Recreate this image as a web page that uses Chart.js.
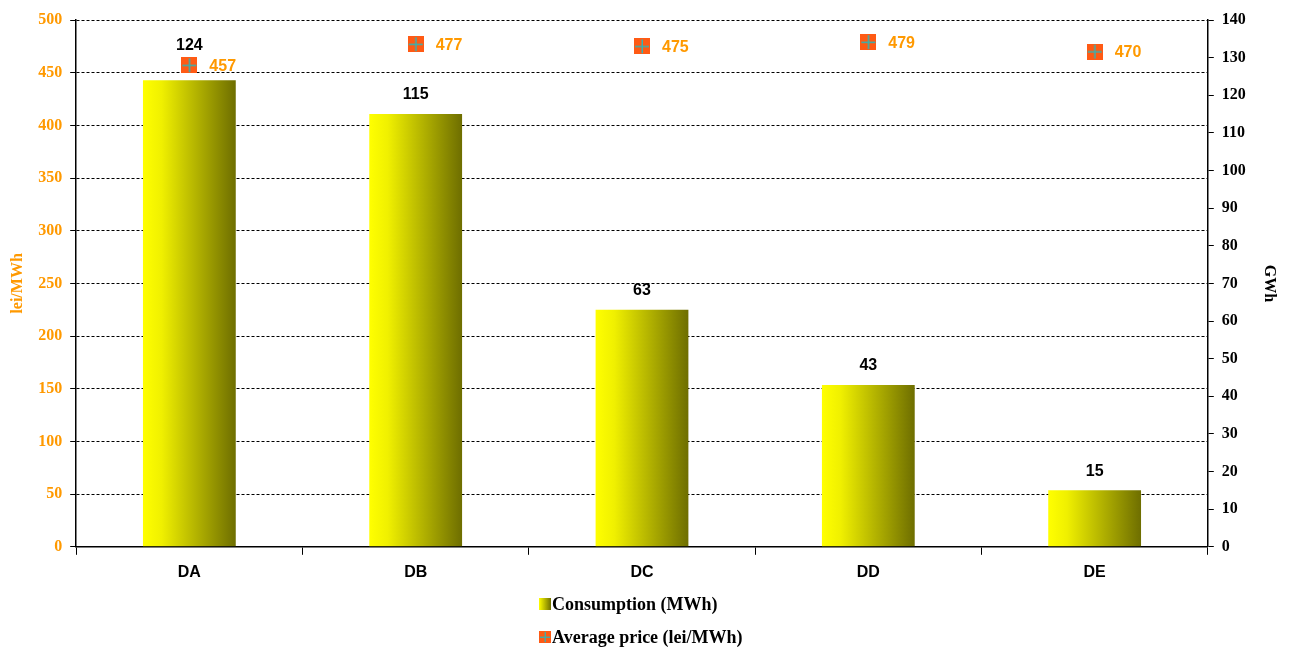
<!DOCTYPE html>
<html>
<head>
<meta charset="utf-8">
<script src="https://cdn.jsdelivr.net/npm/chart.js@4.4.0/dist/chart.umd.min.js"></script>
<style>
  html, body { margin: 0; padding: 0; background: #fff; }
  #wrap { width: 1293px; height: 647px; }
</style>
</head>
<body>
<div id="wrap"><canvas id="myChart" width="1293" height="647"></canvas></div>
<script>
// data
const categories = ["DA", "DB", "DC", "DD", "DE"];
const consumption = [124, 115, 63, 43, 15];   // GWh, right axis
const avgPrice = [457, 477, 475, 479, 470];     // lei/MWh, left axis
const leftTicks = [0, 50, 100, 150, 200, 250, 300, 350, 400, 450, 500];
const rightTicks = [0, 10, 20, 30, 40, 50, 60, 70, 80, 90, 100, 110, 120, 130, 140];

const ORANGE = "#FF9900";
const BAR_PCT = 0.41;

// orange square marker with teal cross
const marker = document.createElement("canvas");
marker.width = 16; marker.height = 16;
(function () {
  const m = marker.getContext("2d");
  m.fillStyle = "#FF5A14";
  m.fillRect(0, 0, 16, 16);
  m.fillStyle = "#33B3B3";
  m.fillRect(7.5, 1, 1.5, 14);
  m.fillRect(1, 7.5, 14, 1.5);
})();

function barGradient(c) {
  const chart = c.chart;
  if (!chart.chartArea) return "#cccc00";
  const xs = chart.scales.x;
  const cx = xs.getPixelForValue(c.dataIndex);
  const w = xs.width / categories.length * BAR_PCT;
  const g = chart.ctx.createLinearGradient(cx - w / 2, 0, cx + w / 2, 0);
  g.addColorStop(0, "#FFFF00");
  g.addColorStop(0.2, "#F0F000");
  g.addColorStop(1, "#6E6E00");
  return g;
}

// value labels + legend drawn by hand
const labelsPlugin = {
  id: "labels",
  afterDatasetsDraw(chart) {
    const ctx = chart.ctx;
    const pts = chart.getDatasetMeta(1).data;
    ctx.save();
    ctx.font = "bold 16px 'Liberation Sans', Arial, sans-serif";
    ctx.textBaseline = "middle";
    ctx.textAlign = "center";
    ctx.fillStyle = "#000";
    chart.getDatasetMeta(0).data.forEach((el, i) => {
      let y = el.y - 19;
      // keep the bar label clear of the price marker
      if (Math.abs(y - pts[i].y) < 18) y = pts[i].y - 20;
      ctx.fillText(consumption[i], el.x, y);
    });
    ctx.textAlign = "left";
    ctx.fillStyle = ORANGE;
    pts.forEach((el, i) => {
      ctx.fillText(avgPrice[i], el.x + 20, el.y + 1);
    });
    ctx.restore();
  },
  afterDraw(chart) {
    const ctx = chart.ctx;
    ctx.save();
    ctx.font = "bold 18px 'Liberation Serif', 'Times New Roman', serif";
    ctx.textBaseline = "middle";
    ctx.textAlign = "left";
    const x0 = 539;
    // row 1
    const g = ctx.createLinearGradient(x0, 0, x0 + 12, 0);
    g.addColorStop(0, "#FFFF00");
    g.addColorStop(1, "#6E6E00");
    ctx.fillStyle = g;
    ctx.fillRect(x0, 598, 12, 12);
    ctx.fillStyle = "#000";
    ctx.fillText("Consumption (MWh)", x0 + 13, 605);
    // row 2
    ctx.drawImage(marker, x0, 631, 12, 12);
    ctx.fillText("Average price (lei/MWh)", x0 + 13, 638);
    ctx.restore();
  }
};

new Chart("myChart", {
  data: {
    labels: categories,
    datasets: [{
      type: "bar",
      label: "Consumption (MWh)",
      data: consumption,
      yAxisID: "y1",
      backgroundColor: barGradient,
      borderWidth: 0,
      barPercentage: BAR_PCT,
      categoryPercentage: 1,
      order: 2
    }, {
      type: "line",
      label: "Average price (lei/MWh)",
      data: avgPrice,
      yAxisID: "y",
      showLine: false,
      pointStyle: marker,
      pointRadius: 8,
      order: 1
    }]
  },
  options: {
    responsive: false,
    animation: false,
    layout: { padding: { left: 5, right: 8, top: 20, bottom: 57 } },
    plugins: {
      legend: { display: false },
      tooltip: { enabled: false }
    },
    scales: {
      x: {
        offset: true,
        grid: { offset: true, drawOnChartArea: false, color: "#000", tickLength: 8, lineWidth: 1 },
        border: { color: "#000", width: 1.5 },
        ticks: { color: "#000", padding: 8, font: { family: "'Liberation Sans', Arial, sans-serif", size: 16, weight: "bold" } }
      },
      y: {
        position: "left",
        min: 0, max: 500,
        afterBuildTicks: (s) => { s.ticks = leftTicks.map(v => ({ value: v })); },
        grid: { color: "#000", lineWidth: 1, tickLength: 6, drawTicks: true },
        border: { color: "#000", width: 1.5, dash: [3, 2] },
        ticks: { color: ORANGE, padding: 8, font: { family: "'Liberation Serif', 'Times New Roman', serif", size: 16, weight: "bold" } },
        title: { display: true, text: "lei/MWh", color: ORANGE, font: { family: "'Liberation Serif', 'Times New Roman', serif", size: 16, weight: "bold" }, padding: 3 }
      },
      y1: {
        position: "right",
        min: 0, max: 140,
        afterBuildTicks: (s) => { s.ticks = rightTicks.map(v => ({ value: v })); },
        grid: { drawOnChartArea: false, color: "#000", tickLength: 6 },
        border: { color: "#000", width: 1.5 },
        ticks: { color: "#000", padding: 8, font: { family: "'Liberation Serif', 'Times New Roman', serif", size: 16, weight: "bold" } },
        title: { display: true, text: "GWh", color: "#000", font: { family: "'Liberation Serif', 'Times New Roman', serif", size: 16, weight: "bold" }, padding: 6 }
      }
    }
  },
  plugins: [labelsPlugin]
});
</script>
</body>
</html>
